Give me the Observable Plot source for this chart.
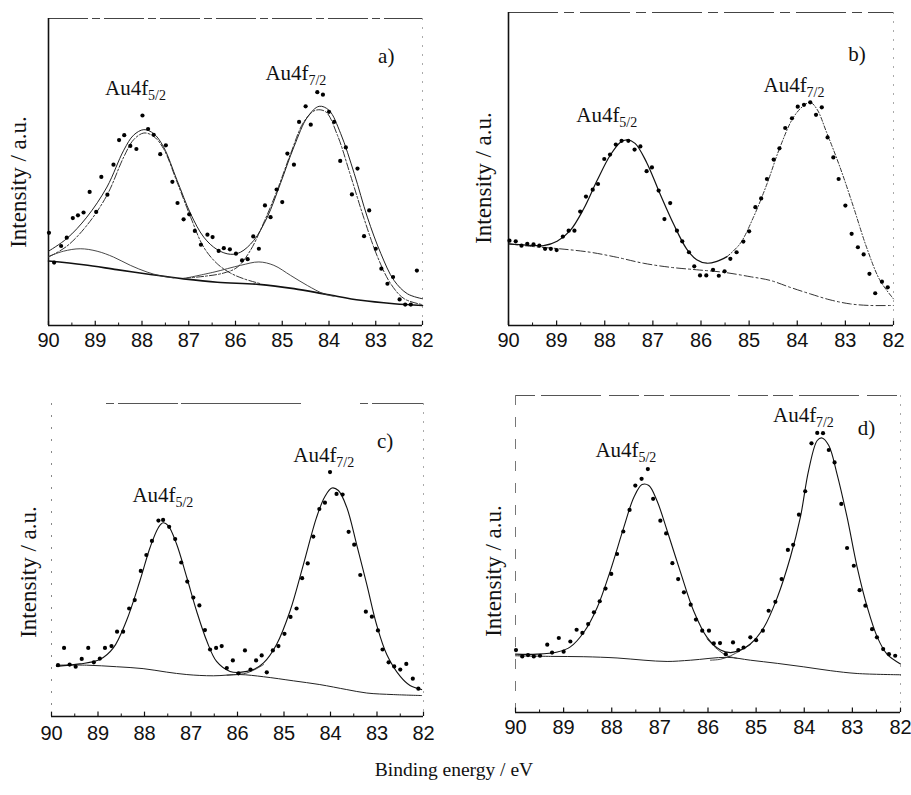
<!DOCTYPE html>
<html>
<head>
<meta charset="utf-8">
<script src="https://cdn.jsdelivr.net/npm/d3@7"></script>
<script src="https://cdn.jsdelivr.net/npm/@observablehq/plot@0.6"></script>
<style>
  html, body { margin: 0; padding: 0; background: #fff; overflow: hidden; }
  #fig { position: relative; width: 911px; height: 795px; }
  #fig svg { position: absolute; left: 0; top: 0; }
  #xtitle { position: absolute; left: 0; top: 759px; width: 908px; text-align: center;
            font-family: "Liberation Serif", "Times New Roman", serif; font-size: 19.5px; color: #111; }
</style>
</head>
<body>
<div id="fig"></div>
<script>
// ---------- tick labels ----------
const xTicks = [90, 89, 88, 87, 86, 85, 84, 83, 82];
const xMinor = [89.5, 88.5, 87.5, 86.5, 85.5, 84.5, 83.5, 82.5];
const yTitle = "Intensity / a.u.";
const xTitle = "Binding energy / eV";

// ---------- panel a ----------
const dotsA = [[89.99,30.2],[89.88,20.5],[89.73,25.9],[89.61,28.6],[89.48,35.0],[89.37,35.9],[89.25,36.8],[89.12,43.5],[88.98,37.0],[88.87,48.4],[88.74,42.6],[88.61,52.4],[88.49,60.4],[88.38,62.0],[88.25,58.5],[88.12,57.5],[87.99,68.4],[87.87,64.0],[87.75,62.1],[87.61,55.8],[87.49,58.7],[87.35,46.8],[87.24,39.9],[87.11,34.6],[86.99,36.2],[86.87,30.8],[86.74,26.3],[86.60,29.6],[86.49,28.8],[86.36,24.3],[86.25,25.2],[86.12,24.8],[85.99,23.4],[85.86,21.2],[85.74,21.6],[85.62,29.0],[85.50,25.0],[85.37,39.1],[85.25,35.3],[85.12,44.3],[85.00,40.2],[84.89,56.0],[84.75,52.4],[84.64,66.3],[84.50,71.4],[84.39,65.4],[84.25,76.0],[84.13,75.2],[84.00,69.6],[83.89,66.3],[83.76,53.6],[83.64,58.0],[83.51,42.7],[83.39,51.1],[83.25,29.1],[83.14,37.5],[83.00,25.0],[82.88,18.5],[82.75,13.6],[82.63,15.8],[82.49,8.5],[82.37,6.8],[82.25,6.8],[82.12,17.9]];
const envA = [[90.00,24.2],[89.61,28.3],[89.18,35.3],[88.75,45.1],[88.39,57.1],[88.18,62.0],[87.96,63.8],[87.75,62.5],[87.54,58.2],[87.25,47.3],[86.96,36.4],[86.68,28.8],[86.39,24.7],[86.11,23.2],[85.89,23.9],[85.61,27.7],[85.32,35.3],[85.04,46.2],[84.75,58.2],[84.46,67.9],[84.21,71.4],[84.00,70.1],[83.75,62.5],[83.46,49.5],[83.18,35.3],[82.89,23.4],[82.61,14.7],[82.32,10.3],[82.00,8.7]];
const peak52A = [[90.00,22.3],[89.61,25.8],[89.18,32.6],[88.75,42.4],[88.39,54.9],[88.18,60.5],[87.96,62.7],[87.75,61.6],[87.54,57.6],[87.25,46.7],[86.96,35.3],[86.68,25.5],[86.39,20.1],[86.11,17.1],[85.82,15.2],[85.46,13.6]];
const peak72A = [[87.11,15.4],[86.68,16.0],[86.25,17.1],[85.96,19.0],[85.68,24.5],[85.39,33.7],[85.11,44.0],[84.82,56.0],[84.54,66.3],[84.29,70.1],[84.07,69.6],[83.82,62.0],[83.54,48.9],[83.25,34.8],[82.96,22.3],[82.68,13.6],[82.39,8.7],[82.00,6.8]];
const compA1 = [[90.00,22.5],[89.68,24.2],[89.32,25.0],[88.96,24.2],[88.61,22.3],[88.25,19.6],[87.89,17.4],[87.61,16.2],[87.32,15.5]];
const compA2 = [[87.04,15.5],[86.46,17.4],[85.89,19.6],[85.50,20.7],[85.18,19.6],[84.82,16.3],[84.46,13.0],[84.11,10.3],[83.89,9.5]];
const baseA = [[90.00,21.0],[89.25,19.8],[88.54,18.2],[87.82,16.6],[87.11,15.2],[86.39,14.1],[85.50,13.4],[84.75,12.0],[84.04,10.1],[83.32,8.2],[82.61,7.1],[82.00,6.5]];
const labelsA = [{t:"Au4f", s:"5/2", x:88.79, y:75.0},{t:"Au4f", s:"7/2", x:85.36, y:79.9},{t:"a)", s:"", x:82.95, y:85.5}];

// ---------- panel b ----------
const dotsB = [[89.98,27.1],[89.85,26.9],[89.73,25.5],[89.61,26.1],[89.48,25.9],[89.36,25.5],[89.24,24.5],[89.12,24.5],[89.00,24.1],[88.87,28.4],[88.75,30.3],[88.63,30.3],[88.51,36.4],[88.39,41.2],[88.25,43.4],[88.14,45.2],[88.01,53.2],[87.89,54.6],[87.77,57.8],[87.65,59.0],[87.51,59.0],[87.38,56.2],[87.26,57.2],[87.13,49.3],[87.02,50.5],[86.88,43.1],[86.76,34.0],[86.64,39.1],[86.50,30.3],[86.39,26.9],[86.25,23.4],[86.14,18.9],[86.02,16.0],[85.89,16.0],[85.75,17.8],[85.63,15.9],[85.51,17.3],[85.39,21.3],[85.26,23.4],[85.12,26.8],[85.00,30.1],[84.87,37.8],[84.75,40.6],[84.63,46.8],[84.49,53.0],[84.37,56.6],[84.25,63.1],[84.11,66.2],[83.99,69.9],[83.86,70.5],[83.73,71.3],[83.61,67.3],[83.49,69.7],[83.37,60.1],[83.25,53.7],[83.14,46.8],[83.00,38.3],[82.87,29.3],[82.74,25.0],[82.62,22.7],[82.50,16.5],[82.38,10.3],[82.24,14.0],[82.12,12.2]];
const envB1 = [[90.00,26.1],[89.62,25.7],[89.27,25.5],[88.99,26.9],[88.72,30.3],[88.44,37.2],[88.16,46.3],[87.89,54.3],[87.68,58.5],[87.54,59.3],[87.37,58.2],[87.13,52.1],[86.85,42.0],[86.57,32.4],[86.30,24.5],[86.09,21.0],[85.88,19.9],[85.67,20.5],[85.46,22.0]];
const envB2 = [[85.46,22.0],[85.19,26.1],[84.91,34.6],[84.63,45.2],[84.36,56.9],[84.08,66.5],[83.87,70.2],[83.73,71.3],[83.59,69.1],[83.39,61.7],[83.11,50.5],[82.83,37.8],[82.56,25.0],[82.28,14.4],[82.00,8.5]];
const baseB = [[90.00,26.1],[89.48,25.2],[88.93,24.5],[88.30,23.4],[87.75,21.8],[87.20,19.9],[86.64,18.6],[86.09,17.8],[85.53,17.0],[84.98,15.6],[84.56,14.4],[84.15,12.2],[83.73,10.1],[83.32,8.2],[82.90,6.9],[82.49,6.4],[82.00,6.4]];
const labelsB = [{t:"Au4f", s:"5/2", x:88.59, y:64.9},{t:"Au4f", s:"7/2", x:84.70, y:74.5},{t:"b)", s:"", x:82.94, y:84.6}];

// ---------- panel c ----------
const dotsC = [[89.86,16.4],[89.73,21.9],[89.61,16.6],[89.48,15.9],[89.35,18.4],[89.21,21.9],[89.09,17.3],[88.96,18.5],[88.85,21.9],[88.71,22.5],[88.59,27.1],[88.46,27.1],[88.33,34.5],[88.21,37.2],[88.08,46.5],[87.96,51.6],[87.84,56.1],[87.70,62.6],[87.60,62.8],[87.47,60.6],[87.34,56.7],[87.21,49.2],[87.08,43.1],[86.95,38.0],[86.82,35.5],[86.70,27.6],[86.59,21.4],[86.46,21.9],[86.34,22.5],[86.23,15.5],[86.10,17.9],[85.98,13.8],[85.84,21.1],[85.72,15.0],[85.60,17.9],[85.48,19.5],[85.37,14.1],[85.24,21.1],[85.12,22.5],[84.99,26.4],[84.86,31.8],[84.73,34.5],[84.61,44.2],[84.49,48.9],[84.37,57.5],[84.24,66.3],[84.12,68.3],[84.01,78.1],[83.87,71.1],[83.74,70.9],[83.61,59.0],[83.49,54.9],[83.36,45.2],[83.24,33.5],[83.11,31.9],[82.98,27.5],[82.88,21.4],[82.75,17.3],[82.63,16.0],[82.50,15.0],[82.37,16.8],[82.23,12.1],[82.11,8.9]];
const envC = [[89.89,16.0],[89.39,16.8],[88.96,18.2],[88.67,21.9],[88.39,30.5],[88.10,43.3],[87.88,54.0],[87.70,60.4],[87.60,61.9],[87.49,61.0],[87.31,55.1],[87.09,44.4],[86.88,33.7],[86.66,24.1],[86.45,17.6],[86.16,14.4],[85.95,14.1],[85.66,15.0],[85.44,17.1],[85.16,23.0],[84.87,33.7],[84.58,48.7],[84.30,63.6],[84.12,70.3],[83.97,73.0],[83.83,72.2],[83.65,66.8],[83.44,55.1],[83.22,42.2],[83.01,29.4],[82.79,19.8],[82.50,12.8],[82.29,9.9],[82.04,8.6]];
const compC = [[86.23,13.2],[85.95,13.5],[85.80,13.9],[85.60,15.2],[85.44,16.6]];
const baseC = [[89.89,16.4],[89.25,16.4],[88.60,15.9],[88.03,15.3],[87.53,14.2],[87.09,13.4],[86.52,13.0],[85.95,13.4],[85.44,12.7],[84.80,11.4],[84.23,10.2],[83.65,8.6],[83.22,7.5],[82.65,7.0],[82.04,6.7]];
const labelsC = [{t:"Au4f", s:"5/2", x:88.26, y:68.4},{t:"Au4f", s:"7/2", x:84.80, y:81.3},{t:"c)", s:"", x:83.0, y:85.9}];

// ---------- panel d ----------
const dotsD = [[89.99,19.7],[89.86,17.7],[89.74,18.1],[89.62,17.7],[89.49,17.9],[89.34,21.4],[89.24,18.9],[89.10,23.5],[89.00,19.2],[88.86,22.4],[88.73,26.1],[88.61,25.1],[88.49,27.9],[88.37,31.6],[88.25,35.1],[88.13,39.1],[88.01,43.7],[87.89,50.0],[87.76,57.1],[87.63,63.9],[87.51,71.6],[87.38,73.7],[87.25,76.8],[87.14,67.4],[86.99,60.5],[86.87,56.5],[86.74,47.1],[86.62,42.1],[86.50,37.9],[86.36,34.0],[86.25,29.3],[86.12,25.8],[85.98,25.8],[85.88,21.8],[85.75,21.9],[85.63,18.4],[85.48,22.1],[85.37,19.7],[85.26,20.5],[85.12,23.7],[85.00,22.8],[84.86,25.8],[84.74,32.1],[84.60,34.9],[84.47,42.1],[84.34,51.3],[84.23,52.9],[84.11,62.4],[83.98,69.8],[83.85,84.9],[83.73,88.2],[83.61,88.1],[83.49,82.8],[83.37,78.9],[83.23,65.8],[83.11,51.9],[82.97,46.3],[82.85,38.6],[82.73,33.7],[82.59,26.3],[82.49,23.7],[82.36,20.0],[82.24,18.4],[82.11,17.9]];
const envD = [[90.00,18.4],[89.55,18.4],[89.13,19.1],[88.86,20.7],[88.58,25.3],[88.30,33.2],[88.03,44.7],[87.75,58.4],[87.54,67.9],[87.37,71.9],[87.23,71.6],[87.06,66.8],[86.85,57.4],[86.57,44.2],[86.30,32.1],[86.02,23.7],[85.74,19.7],[85.53,18.9],[85.33,19.7],[85.12,21.6],[84.84,26.8],[84.56,36.3],[84.29,48.9],[84.08,61.6],[83.91,76.3],[83.73,85.8],[83.63,86.6],[83.49,84.2],[83.32,75.3],[83.11,61.6],[82.90,45.8],[82.69,33.2],[82.48,23.7],[82.28,18.4],[82.00,15.3]];
const compD1 = [[86.02,23.2],[85.81,20.0],[85.60,17.9],[85.40,17.1]];
const compD2 = [[85.95,16.5],[85.74,16.8],[85.53,17.9],[85.33,19.5],[85.12,21.4]];
const baseD = [[90.00,17.9],[89.27,17.7],[88.58,17.6],[87.89,17.2],[87.33,16.5],[86.85,16.1],[86.36,16.5],[85.60,17.4],[85.12,16.5],[84.56,15.5],[84.01,14.4],[83.46,13.2],[82.90,12.3],[82.00,11.9]];
const labelsD = [{t:"Au4f", s:"5/2", x:88.34, y:80.5},{t:"Au4f", s:"7/2", x:84.65, y:91.6},{t:"d)", s:"", x:82.89, y:87.4}];

// ---------- layout / style ----------
const W = 911, H = 795;
const SERIF = "'Liberation Serif', 'Times New Roman', serif";
const SANS = "'Liberation Sans', Arial, sans-serif";

function panel(cfg) {
  const lineMarks = cfg.lines.map(l =>
    Plot.line(l.data, {x: d => d[0], y: d => d[1], curve: "catmull-rom",
      stroke: l.stroke || "#222", strokeWidth: l.w || 1, strokeDasharray: l.dash || null}));
  return Plot.plot({
    width: W, height: H,
    marginLeft: cfg.m[0], marginRight: cfg.m[1], marginTop: cfg.m[2], marginBottom: cfg.m[3],
    style: {background: "transparent", fontFamily: SANS, overflow: "visible"},
    x: {domain: [90, 82], axis: null},
    y: {domain: [0, 100], axis: null},
    marks: [
      Plot.ruleY([100], {stroke: cfg.topColor, strokeWidth: 1, strokeDasharray: cfg.topDash}),
      Plot.ruleX([82], {stroke: "#aaa", strokeWidth: 1, strokeDasharray: "2,7"}),
      Plot.ruleX([90], {stroke: cfg.leftColor, strokeWidth: cfg.leftW, strokeDasharray: cfg.leftDash}),
      Plot.ruleY([0], {stroke: "#111", strokeWidth: 1.6}),
      Plot.ruleX(xTicks, {x: d => d, y1: 0, y2: 1.4, stroke: "#111", strokeWidth: 1.2}),
      Plot.ruleX(xMinor, {x: d => d, y1: 0, y2: 0.8, stroke: "#111", strokeWidth: 1}),
      ...lineMarks,
      Plot.dot(cfg.dots, {x: d => d[0], y: d => d[1], r: 2.1, fill: "#000", stroke: "none"}),
      Plot.text(cfg.labels, {x: "x", y: "y", text: "t", textAnchor: "start", lineAnchor: "bottom",
        fontFamily: SERIF, fontSize: 21, fill: "#111"}),
      Plot.text(cfg.labels.filter(d => d.s), {x: "x", y: "y", text: "s", textAnchor: "start", lineAnchor: "bottom",
        dx: 43, dy: 5, fontFamily: SERIF, fontSize: 14, fill: "#111"}),
      Plot.text([yTitle], {frameAnchor: "left", rotate: -90, textAnchor: "middle", lineAnchor: "bottom",
        dx: cfg.yl[0], dy: cfg.yl[1], fontFamily: SERIF, fontSize: 23, fill: "#111"}),
      Plot.axisX({ticks: xTicks, tickSize: 0, tickPadding: cfg.tp, tickFormat: d => String(d),
        label: null, fontSize: 20, fontFamily: SANS, fill: "#111"})
    ]
  });
}

const panels = [
  {m: [48, W - 422, 18, H - 325], dots: dotsA, labels: labelsA, yl: [-23, 10], tp: 7,
   topColor: "#444", topDash: "40,4,8,4", leftColor: "#111", leftW: 1.6, leftDash: null,
   lines: [
     {data: baseA, w: 1.6, stroke: "#111"},
     {data: compA1, w: 0.9, stroke: "#333"},
     {data: compA2, w: 0.9, stroke: "#333"},
     {data: peak52A, w: 1, stroke: "#333", dash: "7,2,2,2"},
     {data: peak72A, w: 1, stroke: "#333", dash: "7,2,2,2"},
     {data: envA, w: 1, stroke: "#222"}
   ]},
  {m: [508, W - 893, 12, H - 325], dots: dotsB, labels: labelsB, yl: [-18, 9], tp: 7,
   topColor: "#444", topDash: "50,6,10,6", leftColor: "#111", leftW: 1.6, leftDash: null,
   lines: [
     {data: baseB, w: 1, stroke: "#333", dash: "9,3,2,3"},
     {data: envB1, w: 1.2, stroke: "#111"},
     {data: envB2, w: 1, stroke: "#333", dash: "4,2,1,2"}
   ]},
  {m: [51, W - 423, 403, H - 716], dots: dotsC, labels: labelsC, yl: [-16, 12], tp: 9,
   topColor: "#555", topDash: "0,55,8,4,60,3,120,4", leftColor: "#888", leftW: 1, leftDash: "2,10",
   lines: [
     {data: baseC, w: 1, stroke: "#222"},
     {data: compC, w: 0.9, stroke: "#333"},
     {data: envC, w: 1.1, stroke: "#111"}
   ]},
  {m: [515, W - 900, 395, H - 712], dots: dotsD, labels: labelsD, yl: [-15, 17], tp: 7,
   topColor: "#555", topDash: "20,6,60,8,30,5", leftColor: "#777", leftW: 1, leftDash: "10,12",
   lines: [
     {data: baseD, w: 1, stroke: "#222"},
     {data: compD1, w: 0.9, stroke: "#333"},
     {data: compD2, w: 0.9, stroke: "#333"},
     {data: envD, w: 1.1, stroke: "#111"}
   ]}
];

const fig = document.getElementById("fig");
for (const p of panels) fig.appendChild(panel(p));
const t = document.createElement("div");
t.id = "xtitle";
t.textContent = xTitle;
fig.appendChild(t);
</script>
</body>
</html>
